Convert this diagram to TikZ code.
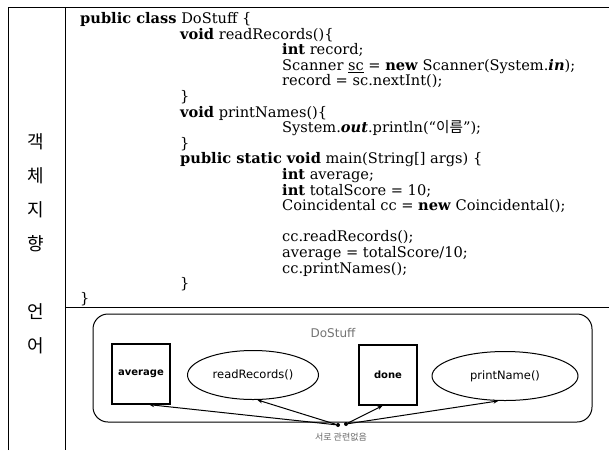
\documentclass[tikz,border=0pt]{standalone}
\usepackage{fontspec}
\setmainfont{DejaVu Serif}
\newfontfamily\kr{Noto Sans CJK KR}
\newfontfamily\lbl{DejaVu Sans}
\usetikzlibrary{arrows.meta,shapes.geometric}
\begin{document}
\begin{tikzpicture}[x=1pt,y=-1pt,
  code/.style={anchor=base west,inner sep=0pt,font=\fontsize{14.6}{16}\selectfont},
  side/.style={font=\kr\fontsize{18}{20}\selectfont,inner sep=0pt},
  frame/.style={line width=1pt},
  member/.style={draw,line width=1pt,font=\lbl\fontsize{11.5}{13}\selectfont,inner sep=0pt},
  varbox/.style={member,rectangle,line width=1.3pt,minimum width=58pt,minimum height=60pt,font=\lbl\bfseries\fontsize{10}{12}\selectfont},
  methell/.style={member,ellipse,minimum height=49pt},
  link/.style={line width=1pt,-{Stealth[length=5pt,width=4pt]}},
  hub/.style={circle,fill,inner sep=0pt,minimum size=4pt}]
\useasboundingbox (0,0) rectangle (609,450);
\fill[white] (0,0) rectangle (609,450);
% frame
\draw[frame] (8,450) -- (8,7) -- (609,7);
\draw[frame] (65,7) -- (65,450);
\draw[frame] (65,307) -- (609,307);
% side label
\node[side] (s1) at (36,142) {객};
\node[side] (s2) at (36,176) {체};
\node[side] (s3) at (36,210) {지};
\node[side] (s4) at (36,244) {향};
\node[side] (s5) at (36,312) {언};
\node[side] (s6) at (36,346) {어};
% code (baselines 23.5 + 15.6 per line)
\node[code] (c1) at (80,23.5) {\textbf{public class} DoStuff \{};
\node[code] (c2) at (180,39.1) {\textbf{void} readRecords()\{};
\node[code] (c3) at (282,54.7) {\textbf{int} record;};
\node[code] (c4) at (282,70.3) {Scanner \underline{sc} = \textbf{new} Scanner(System.\textbf{\textit{in}});};
\node[code] (c5) at (282,85.9) {record = sc.nextInt();};
\node[code] (c6) at (180,101.5) {\}};
\node[code] (c7) at (180,117.1) {\textbf{void} printNames()\{};
\node[code] (c8) at (282,132.7) {System.\textbf{\textit{out}}.println(“{\kr 이름}”);};
\node[code] (c9) at (180,148.3) {\}};
\node[code] (c10) at (180,163.9) {\textbf{public static void} main(String[] args) \{};
\node[code] (c11) at (282,179.5) {\textbf{int} average;};
\node[code] (c12) at (282,195.1) {\textbf{int} totalScore = 10;};
\node[code] (c13) at (282,210.7) {Coincidental cc = \textbf{new} Coincidental();};
\node[code] (c15) at (282,241.9) {cc.readRecords();};
\node[code] (c16) at (282,257.5) {average = totalScore/10;};
\node[code] (c17) at (282,273.1) {cc.printNames();};
\node[code] (c18) at (180,288.7) {\}};
\node[code] (c19) at (80,303) {\}};
% diagram
\node[draw,line width=1pt,rounded corners=15pt,minimum width=499pt,minimum height=108pt] (cls) at (342.5,368) {};
\node[font=\lbl\fontsize{12}{14}\selectfont,text=black!55,inner sep=0pt] (title) at (333,333) {DoStuff};
\node[varbox] (average) at (141,374) {average};
\node[methell,minimum width=131pt] (readrec) at (253,375) {readRecords()};
\node[varbox] (done) at (388,375) {done};
\node[methell,minimum width=146pt] (printname) at (505,376) {printName()};
\node[hub] (h1) at (338,425) {};
\node[hub] (h2) at (346,424) {};
\node[font=\kr\fontsize{9}{11}\selectfont,text=black!60,inner sep=0pt] (note) at (341,437) {서로 관련없음};
\draw[link] (h1) -- (average.-75);
\draw[link] (h1) -- (readrec.-80);
\draw[link] (h2) -- (done.-100);
\draw[link] (h2) -- (printname.-105);
\end{tikzpicture}
\end{document}
